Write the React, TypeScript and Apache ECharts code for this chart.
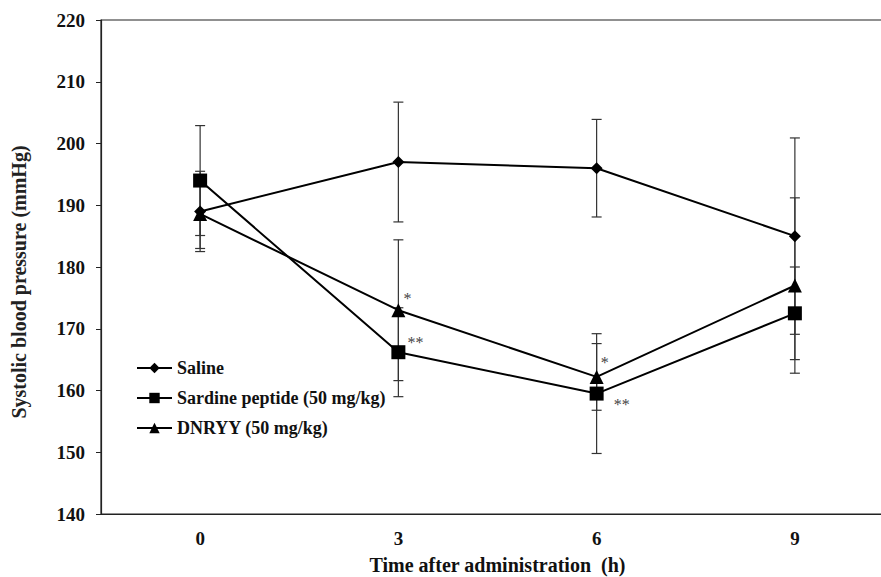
import React, { useEffect, useRef } from "react";
import * as echarts from "echarts";

const times = ["0", "3", "6", "9"];
const saline = [189.0, 197.0, 196.0, 185.0];
const salineErr = [6.5, 9.7, 7.9, 15.9];
const sardine = [194.0, 166.2, 159.5, 172.5];
const sardineErr = [8.9, 7.2, 9.7, 7.5];
const dnryy = [188.6, 173.0, 162.2, 177.0];
const dnryyErr = [5.6, 11.4, 5.4, 14.2];
const sardineStars = ["", "**", "**", ""];
const dnryyStars = ["", "*", "*", ""];
const yTicks = [140, 150, 160, 170, 180, 190, 200, 210, 220];

const FONT = "'Liberation Serif', 'Times New Roman', serif";

const sardineStarOffset: number[][] = [[0, 0], [-3, -10], [5, 11], [0, 0]];
const dnryyStarOffset: number[][] = [[0, 0], [-7, -12], [-8, -14], [0, 0]];

function errSeries(vals: number[], errs: number[]) {
  return {
    type: "custom",
    z: 1,
    silent: true,
    data: vals.map((v, i) => [i, v, errs[i]]),
    renderItem: (params: any, api: any) => {
      const i = api.value(0);
      const v = api.value(1);
      const e = api.value(2);
      const top = api.coord([i, v + e]);
      const bot = api.coord([i, v - e]);
      const hw = 5;
      const style = { stroke: "#333", lineWidth: 1.2 };
      return {
        type: "group",
        children: [
          { type: "line", shape: { x1: top[0], y1: top[1], x2: bot[0], y2: bot[1] }, style },
          { type: "line", shape: { x1: top[0] - hw, y1: top[1], x2: top[0] + hw, y2: top[1] }, style },
          { type: "line", shape: { x1: bot[0] - hw, y1: bot[1], x2: bot[0] + hw, y2: bot[1] }, style },
        ],
      };
    },
  };
}

function starData(vals: number[], stars: string[], offs: number[][], pos: string) {
  return vals.map((v, i) =>
    stars[i]
      ? {
          value: v,
          label: {
            show: true,
            formatter: stars[i],
            position: pos,
            offset: offs[i],
            color: "#444",
            fontFamily: FONT,
            fontSize: 16,
          },
        }
      : v
  );
}

export default function App() {
  const ref = useRef<HTMLDivElement>(null);
  useEffect(() => {
    document.body.style.margin = "0";
    const chart = echarts.init(ref.current!, null, { renderer: "svg" });
    const lineStyle = { color: "#000", width: 2 };
    chart.setOption({
      animation: false,
      backgroundColor: "#fff",
      grid: {
        left: 101,
        right: -13,
        top: 20,
        bottom: 63,
        show: true,
        borderColor: "#222",
        borderWidth: 1.2,
        outerBoundsMode: "none",
        containLabel: false,
      },
      legend: {
        orient: "vertical",
        left: 131,
        top: 354,
        itemWidth: 35,
        itemHeight: 13,
        itemGap: 12,
        textStyle: { fontFamily: FONT, fontWeight: "bold", fontSize: 18, color: "#111", lineHeight: 18 },
        data: ["Saline", "Sardine peptide (50 mg/kg)", "DNRYY (50 mg/kg)"],
      },
      graphic: [
        {
          type: "text",
          x: 19,
          y: 282,
          rotation: Math.PI / 2,
          style: {
            text: "Systolic blood pressure (mmHg)",
            fontFamily: FONT,
            fontWeight: "bold",
            fontSize: 20,
            fill: "#222",
            align: "center",
            verticalAlign: "middle",
          },
        },
      ],
      xAxis: {
        type: "category",
        data: times,
        boundaryGap: true,
        axisLine: { lineStyle: { color: "#222", width: 1.2 } },
        axisTick: { inside: true, length: 4, lineStyle: { color: "#222" } },
        axisLabel: { fontFamily: FONT, fontWeight: "bold", fontSize: 19, color: "#111", margin: 15 },
        name: "Time after administration  (h)",
        nameLocation: "middle",
        nameGap: 41,
        nameTextStyle: { fontFamily: FONT, fontWeight: "bold", fontSize: 20, color: "#111", lineHeight: 20 },
      },
      yAxis: {
        type: "value",
        min: yTicks[0],
        max: yTicks[yTicks.length - 1],
        interval: 10,
        splitLine: { show: false },
        axisLine: { show: true, lineStyle: { color: "#222", width: 1.2 } },
        axisTick: { show: true, length: 5, lineStyle: { color: "#222" } },
        axisLabel: { fontFamily: FONT, fontWeight: "bold", fontSize: 19, color: "#111", margin: 16 },
      },
      series: [
        errSeries(saline, salineErr),
        errSeries(sardine, sardineErr),
        errSeries(dnryy, dnryyErr),
        {
          name: "Saline",
          type: "line",
          z: 3,
          data: saline,
          symbol: "diamond",
          symbolSize: 12,
          itemStyle: { color: "#000" },
          lineStyle,
        },
        {
          name: "Sardine peptide (50 mg/kg)",
          type: "line",
          z: 3,
          data: starData(sardine, sardineStars, sardineStarOffset, "right"),
          symbol: "rect",
          symbolSize: 14,
          itemStyle: { color: "#000" },
          lineStyle,
        },
        {
          name: "DNRYY (50 mg/kg)",
          type: "line",
          z: 3,
          data: starData(dnryy, dnryyStars, dnryyStarOffset, "right"),
          symbol: "triangle",
          symbolSize: 14,
          itemStyle: { color: "#000" },
          lineStyle,
        },
      ],
    });
    return () => chart.dispose();
  }, []);
  return <div ref={ref} style={{ width: 881, height: 577 }} />;
}
